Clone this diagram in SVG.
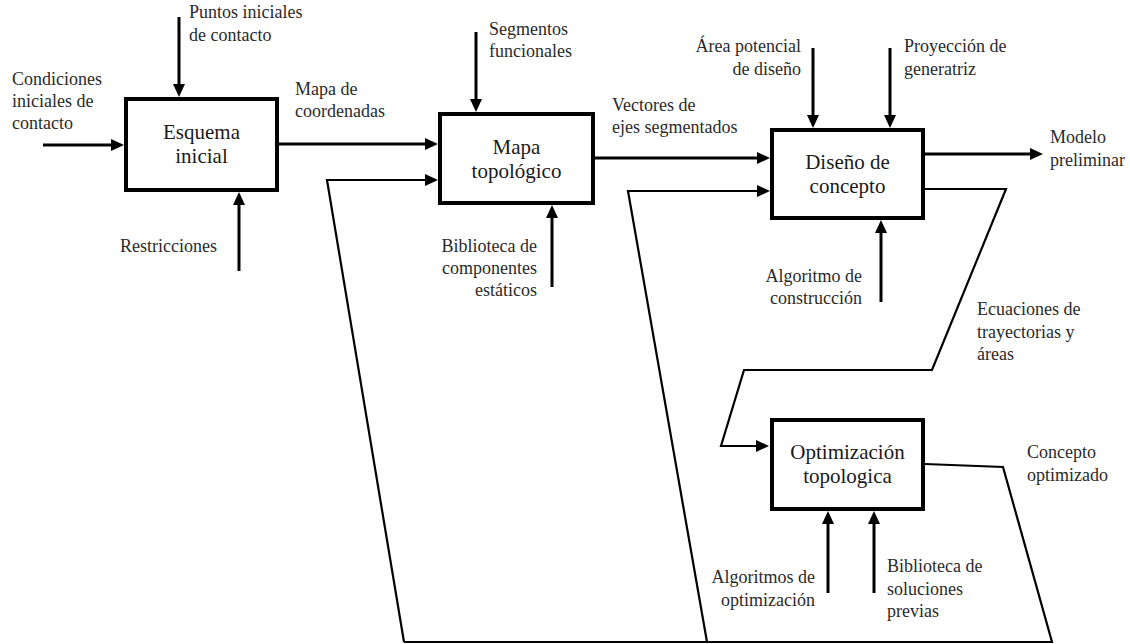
<svg xmlns="http://www.w3.org/2000/svg" width="1130" height="644" viewBox="0 0 1130 644">
  <style>
    .box { fill: #fff; stroke: #000; stroke-width: 4; }
    .title { font-family: "Liberation Serif", "Times New Roman", serif; font-size: 21px; fill: #1a1a1a; text-anchor: middle; }
    .lbl { font-family: "Liberation Serif", "Times New Roman", serif; font-size: 18px; fill: #2a2a2a; }
    .end { text-anchor: end; }
    .arrow { fill: none; stroke: #000; stroke-width: 3; marker-end: url(#head); }
    .flow { fill: none; stroke: #000; stroke-width: 2.2; stroke-linejoin: miter; }
    .flowArrow { fill: none; stroke: #000; stroke-width: 2.2; stroke-linejoin: miter; marker-end: url(#head); }
  </style>
  <defs>
    <marker id="head" viewBox="0 0 13 12" refX="1" refY="6" markerWidth="13" markerHeight="12" markerUnits="userSpaceOnUse" orient="auto">
      <path d="M0,0 L13,6 L0,12 z" fill="#000"/>
    </marker>
  </defs>
  <rect width="1130" height="644" fill="#fff"/>

  <!-- connectors -->
  <g id="connectors">
    <!-- Esquema inicial inputs -->
    <line class="arrow" x1="43" y1="145" x2="112" y2="145"/>
    <line class="arrow" x1="179" y1="17" x2="179" y2="85"/>
    <line class="arrow" x1="239" y1="271" x2="239" y2="204"/>
    <!-- Esquema -> Mapa -->
    <line class="arrow" x1="279" y1="144" x2="426" y2="144"/>
    <!-- Mapa topológico inputs -->
    <line class="arrow" x1="476" y1="32" x2="476" y2="100"/>
    <line class="arrow" x1="552" y1="287" x2="552" y2="217"/>
    <!-- Mapa -> Diseño -->
    <line class="arrow" x1="595" y1="158" x2="758" y2="158"/>
    <!-- Diseño de concepto inputs -->
    <line class="arrow" x1="813" y1="48" x2="813" y2="116"/>
    <line class="arrow" x1="890" y1="48" x2="890" y2="116"/>
    <line class="arrow" x1="881" y1="302" x2="881" y2="232"/>
    <!-- Modelo preliminar -->
    <line class="arrow" x1="925" y1="154" x2="1031" y2="154"/>
    <!-- Ecuaciones de trayectorias y áreas -> Optimización -->
    <path class="flowArrow" d="M925,189 L1006,189 L932,370 L744,370 L721,446 L757,446"/>
    <!-- Optimización inputs -->
    <line class="arrow" x1="828" y1="593" x2="828" y2="523"/>
    <line class="arrow" x1="874" y1="593" x2="874" y2="523"/>
    <!-- Concepto optimizado feedback loop -->
    <path class="flow" d="M925,464 L1003,467 L1052,642 L404,642"/>
    <path class="flowArrow" d="M404,642 L327,180 L426,180"/>
    <path class="flowArrow" d="M707,642 L628,191 L758,191"/>
  </g>

  <g id="esquema-inicial">
    <rect class="box" x="126" y="99" width="151" height="91"/>
    <text class="title" x="201.5" y="139">Esquema</text>
    <text class="title" x="201.5" y="163">inicial</text>
  </g>

  <g id="mapa-topologico">
    <rect class="box" x="440" y="114" width="153" height="89"/>
    <text class="title" x="516.5" y="154">Mapa</text>
    <text class="title" x="516.5" y="178">topológico</text>
  </g>

  <g id="diseno-concepto">
    <rect class="box" x="772" y="130" width="151" height="88"/>
    <text class="title" x="847.5" y="169">Diseño de</text>
    <text class="title" x="847.5" y="193">concepto</text>
  </g>

  <g id="optimizacion-topologica">
    <rect class="box" x="772" y="420" width="151" height="89"/>
    <text class="title" x="847.5" y="459">Optimización</text>
    <text class="title" x="847.5" y="483">topologica</text>
  </g>

  <!-- flow labels -->
  <g id="labels">
    <text class="lbl" x="12" y="85">Condiciones</text>
    <text class="lbl" x="12" y="107">iniciales de</text>
    <text class="lbl" x="12" y="129">contacto</text>

    <text class="lbl" x="189" y="18">Puntos iniciales</text>
    <text class="lbl" x="189" y="41">de contacto</text>

    <text class="lbl" x="120" y="252">Restricciones</text>

    <text class="lbl" x="295" y="95">Mapa de</text>
    <text class="lbl" x="295" y="117">coordenadas</text>

    <text class="lbl" x="489" y="35">Segmentos</text>
    <text class="lbl" x="489" y="57">funcionales</text>

    <text class="lbl end" x="537" y="252">Biblioteca de</text>
    <text class="lbl end" x="537" y="274">componentes</text>
    <text class="lbl end" x="537" y="296">estáticos</text>

    <text class="lbl" x="612" y="111">Vectores de</text>
    <text class="lbl" x="612" y="133">ejes segmentados</text>

    <text class="lbl end" x="801" y="52">Área potencial</text>
    <text class="lbl end" x="801" y="75">de diseño</text>

    <text class="lbl" x="904" y="52">Proyección de</text>
    <text class="lbl" x="904" y="75">generatriz</text>

    <text class="lbl" x="1050" y="143">Modelo</text>
    <text class="lbl" x="1050" y="166">preliminar</text>

    <text class="lbl end" x="862" y="282">Algoritmo de</text>
    <text class="lbl end" x="862" y="304">construcción</text>

    <text class="lbl" x="977" y="315">Ecuaciones de</text>
    <text class="lbl" x="977" y="338">trayectorias y</text>
    <text class="lbl" x="977" y="360">áreas</text>

    <text class="lbl" x="1027" y="458">Concepto</text>
    <text class="lbl" x="1027" y="481">optimizado</text>

    <text class="lbl end" x="815" y="583">Algoritmos de</text>
    <text class="lbl end" x="815" y="606">optimización</text>

    <text class="lbl" x="887" y="572">Biblioteca de</text>
    <text class="lbl" x="887" y="595">soluciones</text>
    <text class="lbl" x="887" y="617">previas</text>
  </g>
</svg>
